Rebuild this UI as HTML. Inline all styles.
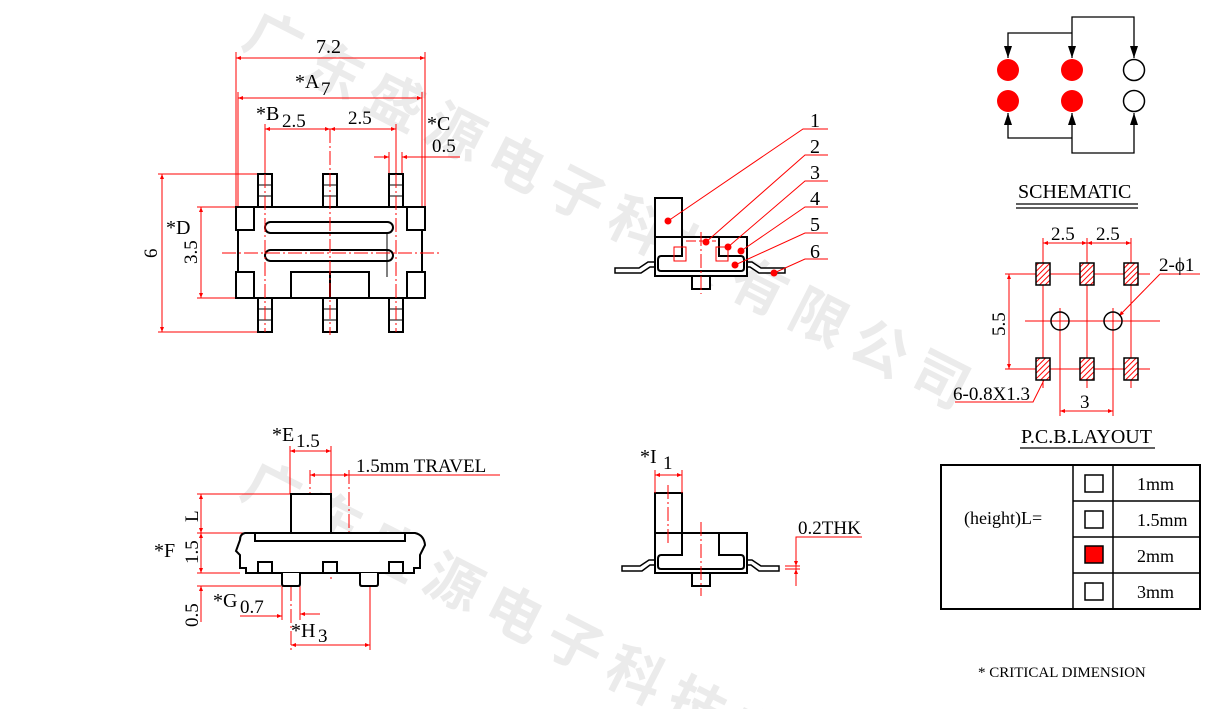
<!DOCTYPE html>
<html><head><meta charset="utf-8"><style>
html,body{margin:0;padding:0;background:#fff;width:1208px;height:709px;overflow:hidden;}
svg{display:block;}
text{font-family:"Liberation Serif","Noto Serif CJK SC",serif;}
</style></head><body>
<svg width="1208" height="709" viewBox="0 0 1208 709" xmlns="http://www.w3.org/2000/svg">
<defs>
<marker id="ar" viewBox="0 0 10 10" refX="10" refY="5" markerWidth="7" markerHeight="5" orient="auto-start-reverse"><path d="M0,1 L10,5 L0,9 z" fill="#f00"/></marker>
<pattern id="hatch" width="4" height="4" patternUnits="userSpaceOnUse" patternTransform="rotate(45)"><rect width="4" height="4" fill="#fff"/><line x1="0" y1="0" x2="0" y2="4" stroke="#f00" stroke-width="2"/></pattern>
</defs>

<!-- watermark -->
<g fill="#ebebeb" font-size="56" font-weight="bold">
<text transform="translate(240,45) rotate(27)" letter-spacing="12" style="font-family:'Noto Sans CJK SC',sans-serif">广东盛源电子科技有限公司</text>
<text transform="translate(238,495) rotate(27)" letter-spacing="12" style="font-family:'Noto Sans CJK SC',sans-serif">广东盛源电子科技有限公司</text>
</g>

<!-- ===== TOP VIEW ===== -->
<g stroke="#f00" stroke-width="1" fill="none">
<line x1="236" y1="58" x2="425" y2="58" marker-start="url(#ar)" marker-end="url(#ar)"/>
<line x1="236" y1="52" x2="236" y2="207"/><line x1="425" y1="52" x2="425" y2="207"/>
<line x1="238" y1="98" x2="422" y2="98" marker-start="url(#ar)" marker-end="url(#ar)"/>
<line x1="238" y1="92" x2="238" y2="230"/><line x1="422" y1="92" x2="422" y2="230"/>
<line x1="265" y1="129" x2="330" y2="129" marker-start="url(#ar)" marker-end="url(#ar)"/>
<line x1="330" y1="129" x2="396" y2="129" marker-start="url(#ar)" marker-end="url(#ar)"/>
<line x1="265" y1="124" x2="265" y2="190"/><line x1="396" y1="124" x2="396" y2="240"/>
<line x1="374" y1="157" x2="389" y2="157" marker-end="url(#ar)"/>
<line x1="417" y1="157" x2="402" y2="157" marker-end="url(#ar)"/>
<line x1="402" y1="157" x2="460" y2="157"/>
<line x1="389" y1="152" x2="389" y2="175"/><line x1="402" y1="152" x2="402" y2="175"/>
<line x1="162" y1="174" x2="162" y2="332" marker-start="url(#ar)" marker-end="url(#ar)"/>
<line x1="158" y1="174" x2="258" y2="174"/><line x1="158" y1="332" x2="258" y2="332"/>
<line x1="201" y1="207" x2="201" y2="298" marker-start="url(#ar)" marker-end="url(#ar)"/>
<line x1="197" y1="207" x2="236" y2="207"/><line x1="197" y1="298" x2="236" y2="298"/>
<line x1="222" y1="253" x2="440" y2="253" stroke-dasharray="12,3,2,3"/>
</g>
<g font-size="20" fill="#000">
<text x="316" y="53">7.2</text>
<text x="295" y="88">*A</text><text x="321" y="95" font-size="19">7</text>
<text x="256" y="120">*B</text><text x="282" y="127" font-size="19">2.5</text>
<text x="348" y="124" font-size="19">2.5</text>
<text x="427" y="130">*C</text>
<text x="432" y="152" font-size="19">0.5</text>
<text x="166" y="234">*D</text>
<text transform="translate(197,264) rotate(-90)" font-size="19">3.5</text>
<text transform="translate(157,258) rotate(-90)" font-size="19">6</text>
</g>
<g stroke="#000" stroke-width="2" fill="#fff">
<path d="M238,207 H422 V298 H238 Z"/>
<rect x="236" y="207" width="18" height="23"/><rect x="407" y="207" width="18" height="23"/>
<rect x="236" y="272" width="18" height="26"/><rect x="407" y="272" width="18" height="26"/>
<rect x="265" y="222" width="128" height="11" rx="5.5"/>
<rect x="265" y="250" width="128" height="11" rx="5.5"/>
<rect x="291" y="272" width="78" height="26"/>
<line x1="330" y1="272" x2="330" y2="298"/>
<rect x="258" y="174" width="14" height="33"/><rect x="323" y="174" width="14" height="33"/><rect x="389" y="174" width="14" height="33"/>
<rect x="258" y="298" width="14" height="34"/><rect x="323" y="298" width="14" height="34"/><rect x="389" y="298" width="14" height="34"/>
</g>
<g stroke="#000" stroke-width="1">
<path d="M258,185H272M258,196H272M323,185H337M323,196H337M389,185H403M389,196H403M258,309H272M258,320H272M323,309H337M323,320H337M389,309H403M389,320H403"/>
<line x1="387" y1="233" x2="387" y2="277"/>
</g>
<g stroke="#f00" stroke-width="1" stroke-dasharray="14,3,2,3">
<line x1="265" y1="174" x2="265" y2="332"/><line x1="330" y1="129" x2="330" y2="335"/><line x1="396" y1="174" x2="396" y2="332"/>
<line x1="222" y1="253" x2="440" y2="253"/>
</g>

<!-- ===== SIDE VIEW ===== -->
<g stroke="#f00" stroke-width="1" fill="none">
<line x1="290" y1="451" x2="331" y2="451" marker-start="url(#ar)" marker-end="url(#ar)"/>
<line x1="290" y1="446" x2="290" y2="494"/><line x1="331" y1="446" x2="331" y2="494"/>
<line x1="310" y1="475" x2="349" y2="475" marker-start="url(#ar)" marker-end="url(#ar)"/>
<line x1="349" y1="475" x2="500" y2="475"/>
<line x1="310" y1="470" x2="310" y2="550" stroke-dasharray="14,3,2,3"/>
<line x1="349" y1="470" x2="349" y2="550" stroke-dasharray="14,3,2,3"/>
<line x1="331" y1="494" x2="331" y2="580" stroke-dasharray="14,3,2,3"/>
<line x1="201" y1="494" x2="201" y2="533" marker-start="url(#ar)" marker-end="url(#ar)"/>
<line x1="201" y1="533" x2="201" y2="573" marker-start="url(#ar)" marker-end="url(#ar)"/>
<line x1="197" y1="494" x2="291" y2="494"/><line x1="197" y1="533" x2="246" y2="533"/><line x1="197" y1="573" x2="240" y2="573"/>
<line x1="201" y1="586" x2="201" y2="622" marker-start="url(#ar)"/>
<line x1="197" y1="586" x2="281" y2="586"/>
<line x1="240" y1="616" x2="282" y2="616" marker-end="url(#ar)"/>
<line x1="282" y1="586" x2="282" y2="620"/><line x1="300" y1="586" x2="300" y2="620"/>
<line x1="320" y1="614" x2="300" y2="614" marker-end="url(#ar)"/>
<line x1="291" y1="645" x2="370" y2="645" marker-start="url(#ar)" marker-end="url(#ar)"/>
<line x1="291" y1="565" x2="291" y2="650" stroke-dasharray="14,3,2,3"/><line x1="370" y1="565" x2="370" y2="650"/>
</g>
<g font-size="20" fill="#000">
<text x="272" y="441">*E</text><text x="296" y="447" font-size="19">1.5</text>
<text x="356" y="472" font-size="19">1.5mm  TRAVEL</text>
<text transform="translate(198,522) rotate(-90)" font-size="19">L</text>
<text x="154" y="557">*F</text>
<text transform="translate(198,564) rotate(-90)" font-size="19">1.5</text>
<text transform="translate(198,627) rotate(-90)" font-size="19">0.5</text>
<text x="213" y="607">*G</text><text x="240" y="613" font-size="19">0.7</text>
<text x="291" y="637">*H</text><text x="318" y="642" font-size="19">3</text>
</g>
<g stroke="#000" stroke-width="2" fill="#fff">
<rect x="291" y="494" width="40" height="39"/>
<path d="M245,533 H415 Q424,535 425,545 L420,555 L420,568 H414 V573 H246 V568 H240 V555 L236,551 L240,540 Q240,534 245,533 Z"/>
<rect x="255" y="533" width="150" height="8"/>
<rect x="258" y="562" width="14" height="11"/><rect x="323" y="562" width="14" height="11"/><rect x="389" y="562" width="14" height="11"/>
<path d="M282,573 V584 Q282,586 284,586 H298 Q300,586 300,584 V573"/>
<path d="M360,573 V584 Q360,586 362,586 H376 Q378,586 378,584 V573"/>
</g>

<!-- ===== FRONT VIEW (top middle) ===== -->
<g stroke="#000" stroke-width="1.5" fill="#fff">
<path d="M615,268 H639 L648,262 H655 V267 H650 L641,273 H615 Z"/>
<path d="M785,268 H761 L752,262 H747 V267 H750 L759,273 H785 Z"/>
</g>
<g stroke="#000" stroke-width="2" fill="#fff">
<rect x="655" y="237" width="92" height="39"/>
<rect x="655" y="198" width="27" height="39"/>
<path d="M682,237 V256 H661 Q658,256 658,260 V268 Q658,271 661,271 H741 Q744,271 744,268 V260 Q744,256 741,256 H719 V237" fill="none"/>
<rect x="692" y="276" width="18" height="13"/>
</g>
<g stroke="#f00" stroke-width="1" fill="none">
<rect x="674" y="247" width="12" height="14"/><rect x="716" y="247" width="12" height="14"/>
<line x1="701" y1="232" x2="701" y2="294" stroke-dasharray="14,3,2,3"/>
<line x1="686" y1="241" x2="716" y2="241" stroke-dasharray="10,3"/>
<path d="M668,221 L803,129 H828"/>
<path d="M706,242 L805,155 H828"/>
<path d="M728,247 L805,181 H828"/>
<path d="M741,251 L805,207 H828"/>
<path d="M735,265 L805,233 H828"/>
<path d="M774,273 L805,259 H828"/>
</g>
<g fill="#f00">
<circle cx="668" cy="221" r="3.5"/><circle cx="706" cy="242" r="3.5"/><circle cx="728" cy="247" r="3.5"/><circle cx="741" cy="251" r="3.5"/><circle cx="735" cy="265" r="3.5"/><circle cx="774" cy="273" r="3.5"/>
</g>
<g font-size="20" fill="#000">
<text x="810" y="127">1</text><text x="810" y="153">2</text><text x="810" y="179">3</text><text x="810" y="205">4</text><text x="810" y="231">5</text><text x="810" y="258">6</text>
</g>

<!-- ===== FRONT VIEW (bottom middle) ===== -->
<g stroke="#000" stroke-width="1.5" fill="#fff">
<path d="M622,566 H640 L649,560 H655 V565 H650 L642,571 H622 Z"/>
<path d="M779,566 H761 L752,560 H747 V565 H751 L759,571 H779 Z"/>
</g>
<g stroke="#000" stroke-width="2" fill="#fff">
<rect x="655" y="533" width="92" height="40"/>
<rect x="655" y="493" width="27" height="40"/>
<path d="M682,533 V555 H661 Q658,555 658,559 V566 Q658,569 661,569 H741 Q744,569 744,566 V559 Q744,555 741,555 H719 V533" fill="none"/>
<rect x="692" y="573" width="18" height="13"/>
</g>
<g stroke="#f00" stroke-width="1" fill="none">
<line x1="655" y1="475" x2="682" y2="475" marker-start="url(#ar)" marker-end="url(#ar)"/>
<line x1="655" y1="470" x2="655" y2="493"/><line x1="682" y1="470" x2="682" y2="493"/>
<line x1="668" y1="485" x2="668" y2="545" stroke-dasharray="14,3,2,3"/>
<line x1="701" y1="522" x2="701" y2="596" stroke-dasharray="14,3,2,3"/>
<path d="M862,537 H796 V586"/>
<line x1="796" y1="555" x2="796" y2="566" marker-end="url(#ar)"/>
<line x1="796" y1="580" x2="796" y2="569" marker-end="url(#ar)"/>
<line x1="785" y1="566" x2="800" y2="566"/><line x1="785" y1="569" x2="800" y2="569"/>
</g>
<g font-size="20" fill="#000">
<text x="640" y="463">*I</text><text x="663" y="469" font-size="19">1</text>
<text x="798" y="534" font-size="19">0.2THK</text>
</g>

<!-- ===== SCHEMATIC ===== -->
<g stroke="#000" stroke-width="1.3" fill="none">
<path d="M1008,58 V33 H1072"/>
<path d="M1072,58 V17 H1134 V58"/>
<path d="M1008,113 V138 H1072"/>
<path d="M1072,113 V153 H1134 V113"/>
</g>
<g fill="#000">
<path d="M1004,46 L1008,58 L1012,46 Z"/><path d="M1068,46 L1072,58 L1076,46 Z"/><path d="M1130,46 L1134,58 L1138,46 Z"/>
<path d="M1004,125 L1008,113 L1012,125 Z"/><path d="M1068,125 L1072,113 L1076,125 Z"/><path d="M1130,125 L1134,113 L1138,125 Z"/>
</g>
<g fill="#f00"><circle cx="1008" cy="70" r="11"/><circle cx="1072" cy="70" r="11"/><circle cx="1008" cy="101" r="11"/><circle cx="1072" cy="101" r="11"/></g>
<g fill="#fff" stroke="#000" stroke-width="1.5"><circle cx="1134" cy="70" r="10.5"/><circle cx="1134" cy="101" r="10.5"/></g>
<text x="1018" y="198" font-size="20" fill="#000">SCHEMATIC</text>
<line x1="1016" y1="204" x2="1138" y2="204" stroke="#000" stroke-width="1.3"/>
<line x1="1016" y1="208" x2="1138" y2="208" stroke="#000" stroke-width="1.3"/>

<!-- ===== PCB LAYOUT ===== -->
<g stroke="#f00" stroke-width="1" fill="none">
<line x1="1043" y1="243" x2="1087" y2="243" marker-start="url(#ar)" marker-end="url(#ar)"/>
<line x1="1087" y1="243" x2="1131" y2="243" marker-start="url(#ar)" marker-end="url(#ar)"/>
<line x1="1043" y1="238" x2="1043" y2="388"/><line x1="1087" y1="238" x2="1087" y2="388"/><line x1="1131" y1="238" x2="1131" y2="388"/>
<line x1="1005" y1="274" x2="1150" y2="274"/><line x1="1005" y1="369" x2="1150" y2="369"/>
<line x1="1025" y1="321" x2="1160" y2="321"/>
<line x1="1009" y1="274" x2="1009" y2="369" marker-start="url(#ar)" marker-end="url(#ar)"/>
<line x1="1060" y1="308" x2="1060" y2="416"/><line x1="1113" y1="308" x2="1113" y2="416"/>
<line x1="1060" y1="411" x2="1113" y2="411" marker-start="url(#ar)" marker-end="url(#ar)"/>
<path d="M1160,274 L1119,316" marker-end="url(#ar)"/><line x1="1160" y1="274" x2="1200" y2="274"/>
<path d="M1045,378 L1033,402 H955"/>
</g>
<g stroke="#000" stroke-width="1.5" fill="url(#hatch)">
<rect x="1036" y="263" width="14" height="22"/><rect x="1080" y="263" width="14" height="22"/><rect x="1124" y="263" width="14" height="22"/>
<rect x="1036" y="358" width="14" height="22"/><rect x="1080" y="358" width="14" height="22"/><rect x="1124" y="358" width="14" height="22"/>
</g>
<g stroke="#000" stroke-width="1.5" fill="none"><circle cx="1060" cy="321" r="9"/><circle cx="1113" cy="321" r="9"/></g>
<g font-size="19" fill="#000">
<text x="1051" y="240">2.5</text><text x="1096" y="240">2.5</text>
<text transform="translate(1005,336) rotate(-90)">5.5</text>
<text x="1080" y="408">3</text>
<text x="1159" y="271">2-ϕ1</text>
<text x="953" y="400">6-0.8X1.3</text>
<text x="1021" y="443" font-size="20">P.C.B.LAYOUT</text>
</g>
<line x1="1020" y1="448" x2="1155" y2="448" stroke="#000" stroke-width="1.3"/>

<!-- ===== TABLE ===== -->
<g stroke="#000" fill="none">
<rect x="941" y="465" width="259" height="144" stroke-width="2"/>
<line x1="1073" y1="465" x2="1073" y2="609" stroke-width="1.5"/>
<line x1="1113" y1="465" x2="1113" y2="609" stroke-width="1.5"/>
<line x1="1073" y1="501" x2="1200" y2="501" stroke-width="1.5"/>
<line x1="1073" y1="537" x2="1200" y2="537" stroke-width="1.5"/>
<line x1="1073" y1="573" x2="1200" y2="573" stroke-width="1.5"/>
<rect x="1085" y="475" width="18" height="17" stroke-width="1.5"/>
<rect x="1085" y="511" width="18" height="17" stroke-width="1.5"/>
<rect x="1085" y="546" width="18" height="17" stroke-width="1.5" fill="#f00"/>
<rect x="1085" y="583" width="18" height="17" stroke-width="1.5"/>
</g>
<g font-size="18" fill="#000">
<text x="964" y="524">(height)L=</text>
<text x="1137" y="490">1mm</text><text x="1137" y="526">1.5mm</text><text x="1137" y="562">2mm</text><text x="1137" y="598">3mm</text>
<text x="978" y="677" font-size="15">* CRITICAL  DIMENSION</text>
</g>
</svg>
</body></html>
